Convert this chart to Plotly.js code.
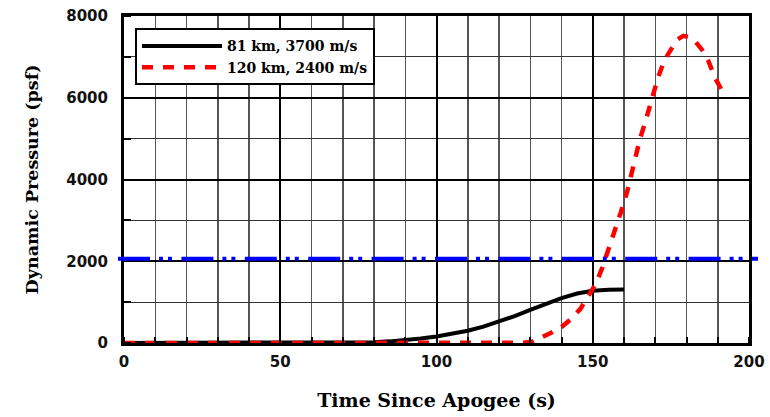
<!DOCTYPE html>
<html>
<head>
<meta charset="utf-8">
<script src="https://cdn.plot.ly/plotly-3.0.1.min.js"></script>
<style>html,body{margin:0;padding:0;background:#fff;}#chart{width:770px;height:417px;}</style>
</head>
<body>
<div id="chart"></div>
<script>
// Series 1: 81 km, 3700 m/s
const blackName = '81 km, 3700 m/s';
const blackX = [0, 20, 40, 60, 70, 75, 80, 85, 90, 95, 100, 105, 110, 115, 120, 125, 130, 135, 140, 145, 150, 155, 160];
const blackY = [0, 0, 0, 0, 0, 8, 20, 40, 70, 110, 160, 225, 300, 400, 520, 660, 810, 960, 1100, 1210, 1280, 1305, 1310];

// Series 2: 120 km, 2400 m/s
const redName = '120 km, 2400 m/s';
const redX = [0, 40, 80, 125, 128, 131, 134, 137, 140, 143, 146, 149, 151, 153, 155, 157, 159, 161, 163, 165, 167, 169, 171, 173, 175, 177, 179, 181, 183, 185, 187, 189, 191, 191.5];
const redY = [0, 0, 0, 0, 5, 40, 140, 260, 390, 580, 830, 1180, 1450, 1830, 2270, 2750, 3200, 3700, 4380, 4960, 5460, 6020, 6520, 6930, 7200, 7420, 7515, 7480, 7360, 7170, 6900, 6510, 6220, 6140];

// Blue dash-dot limit line
const limitLevel = 2060;

// Axis ticks
const xTicks = [0, 50, 100, 150, 200];
const yTicks = [0, 2000, 4000, 6000, 8000];

const tickFont = {family: 'DejaVu Sans', size: 15, color: '#111', weight: 'bold'};
const serifBold = {family: 'DejaVu Serif', color: '#000', weight: 'bold'};

const traces = [
  {x: blackX, y: blackY, type: 'scatter', mode: 'lines', name: blackName,
   line: {color: '#000000', width: 4}},
  {x: redX, y: redY, type: 'scatter', mode: 'lines', name: redName,
   line: {color: '#ff0000', width: 4.5, dash: '11px,10px'}}
];

const layout = {
  width: 770, height: 417,
  margin: {l: 124, r: 21, t: 16, b: 74},
  paper_bgcolor: '#ffffff', plot_bgcolor: '#ffffff',
  showlegend: true,
  legend: {x: 0.0176, y: 0.962, xanchor: 'left', yanchor: 'top',
    bgcolor: '#ffffff', bordercolor: '#000000', borderwidth: 2,
    itemwidth: 80, font: Object.assign({size: 14}, serifBold)},
  xaxis: {
    range: [0, 200], tickvals: xTicks, ticktext: xTicks.map(String),
    showgrid: true, gridcolor: '#000000', gridwidth: 2,
    showline: true, linecolor: '#000000', linewidth: 3, mirror: true,
    ticks: '', zeroline: false, tickfont: tickFont, ticklabelstandoff: 3,
    minor: {dtick: 10, tick0: 0, showgrid: true, gridcolor: '#555555', gridwidth: 1.5,
      ticks: 'inside', ticklen: 6, tickwidth: 2, tickcolor: '#000000'},
    title: {text: 'Time Since Apogee (s)', font: Object.assign({size: 19}, serifBold), standoff: 24}
  },
  yaxis: {
    range: [0, 8000], tickvals: yTicks, ticktext: yTicks.map(String),
    showgrid: true, gridcolor: '#000000', gridwidth: 2,
    showline: true, linecolor: '#000000', linewidth: 3, mirror: true,
    ticks: '', zeroline: false, tickfont: tickFont, ticklabelstandoff: 10,
    minor: {dtick: 1000, tick0: 0, showgrid: true, gridcolor: '#333333', gridwidth: 1.2,
      ticks: 'inside', ticklen: 7, tickwidth: 2, tickcolor: '#000000'},
    title: {text: 'Dynamic Pressure (psf)', font: Object.assign({size: 17.5}, serifBold), standoff: 24}
  },
  shapes: [
    {type: 'line', xref: 'paper', yref: 'y', x0: -0.0096, x1: 1.0144, y0: limitLevel, y1: limitLevel,
     layer: 'above', line: {color: '#0000ff', width: 4, dash: '32px,9px,4px,5px,4px,9.4px'}}
  ]
};

Plotly.newPlot('chart', traces, layout, {displayModeBar: false, staticPlot: true});
</script>
</body>
</html>
